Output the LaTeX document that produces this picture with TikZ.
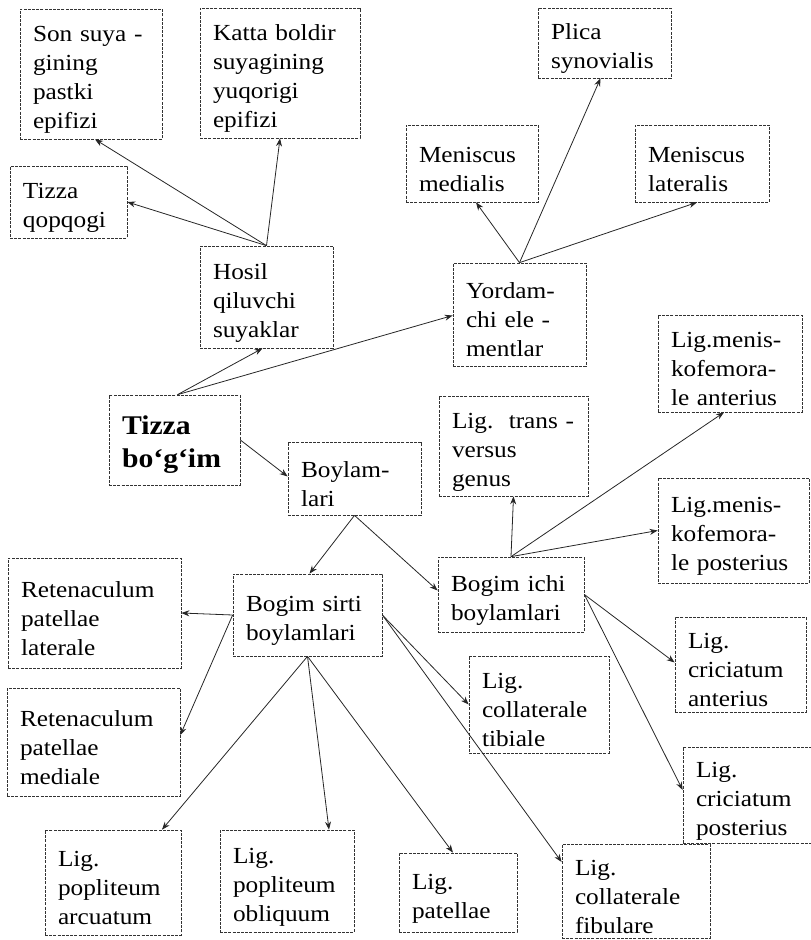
\documentclass[tikz,border=0pt]{standalone}
\usepackage{fontspec}
\setmainfont{Liberation Serif}[FakeStretch=1.1]
\usetikzlibrary{arrows.meta}
\begin{document}
\begin{tikzpicture}[x=1pt,y=-1pt,
  box/.style={draw=black!80, line width=0.7pt, dash pattern=on 3pt off 1.2pt,
    rectangle, align=left, inner xsep=13pt, inner ysep=0pt,
    font=\fontsize{23}{29}\selectfont},
  arr/.style={draw=black!85, line width=0.8pt, -{Stealth[length=8pt,width=6pt]}}]
\useasboundingbox (0,0) rectangle (811,940);
\newcommand{\bx}[6]{\node[box, minimum width=#3pt, minimum height=#4pt, text width=#5pt] (#1) at (#2) {\rule{0pt}{27pt}#6};}
% nodes: name, center, w, h, textwidth, text
\bx{son}{91,74}{142}{130}{116}{Son suya -\\gining\\pastki\\epifizi}
\bx{katta}{280,73}{160}{130}{134}{Katta boldir\\suyagining\\yuqorigi\\epifizi}
\bx{qop}{68.5,202}{117}{72}{91}{Tizza\\qopqogi}
\bx{hosil}{266.5,297}{133}{102}{107}{Hosil\\qiluvchi\\suyaklar}
\bx{plica}{604.5,43}{133}{70}{107}{Plica\\synovialis}
\bx{medialis}{472,163.5}{132}{77}{106}{Meniscus\\medialis}
\bx{lateralis}{702,163.5}{134}{77}{108}{Meniscus\\lateralis}
\bx{yordam}{519.5,314.5}{133}{103}{107}{Yordam-\\chi ele -\\mentlar}
\node[box, minimum width=131pt, minimum height=90pt, text width=105pt,
  font=\fontsize{27}{33}\selectfont\bfseries] (tizza) at (174.5,440) {\rule{0pt}{28pt}Tizza\\bo‘g‘im};
\bx{boylam}{354.5,478.5}{133}{73}{107}{Boylam-\\lari}
\bx{menisant}{730,363.5}{144}{97}{118}{Lig.menis-\\kofemora-\\le anterius}
\bx{trans}{513.5,446}{149}{100}{123}{Lig.\ \ trans -\\versus\\genus}
\bx{menispost}{733.5,530.5}{151}{105}{125}{Lig.menis-\\kofemora-\\le posterius}
\bx{retlat}{94.5,613}{173}{110}{147}{Retenaculum\\patellae\\laterale}
\bx{sirti}{307.5,615}{149}{82}{123}{Bogim sirti\\boylamlari}
\bx{ichi}{511,594.5}{146}{75}{120}{Bogim ichi\\boylamlari}
\bx{retmed}{93.5,742}{173}{108}{147}{Retenaculum\\patellae\\mediale}
\bx{tibiale}{539,704.5}{140}{97}{114}{Lig.\\collaterale\\tibiale}
\bx{crant}{740.5,664.5}{131}{95}{105}{Lig.\\criciatum\\anterius}
\bx{crpost}{747,795}{128}{96}{102}{Lig.\\criciatum\\posterius}
\bx{arcuatum}{113,882.5}{136}{105}{110}{Lig.\\popliteum\\arcuatum}
\bx{obliquum}{287,881}{134}{102}{108}{Lig.\\popliteum\\obliquum}
\bx{patellae}{458,892.5}{118}{79}{92}{Lig.\\patellae}
\bx{fibulare}{636,891}{148}{94}{122}{Lig.\\collaterale\\fibulare}
% connectors
\draw[arr] (hosil.north) -- ([xshift=4pt]son.south);
\draw[arr] (hosil.north) -- (katta.south);
\draw[arr] (hosil.north) -- (qop.east);
\draw[arr] (yordam.north) -- ([xshift=4pt]medialis.south);
\draw[arr] (yordam.north) -- ([xshift=-4pt]plica.south);
\draw[arr] (yordam.north) -- ([xshift=-5pt]lateralis.south);
\draw[arr] ([xshift=3pt]tizza.north) -- ([xshift=-4pt]hosil.south);
\draw[arr] ([xshift=3pt]tizza.north) -- ([yshift=-1pt]yordam.west);
\draw[arr] (tizza.east) -- ([yshift=2pt]boylam.west);
\draw[arr] (boylam.south) -- ([xshift=2pt]sirti.north);
\draw[arr] (boylam.south) -- ([yshift=4pt]ichi.west);
\draw[arr] (sirti.west) -- (retlat.east);
\draw[arr] (sirti.west) -- ([yshift=7pt]retmed.east);
\draw[arr] (sirti.south) -- ([xshift=49pt]arcuatum.north);
\draw[arr] (sirti.south) -- ([xshift=42pt]obliquum.north);
\draw[arr] (sirti.south) -- ([xshift=-5pt]patellae.north);
\draw[arr] (sirti.east) -- (tibiale.west);
\draw[arr] (sirti.east) -- ([yshift=29pt]fibulare.west);
\draw[arr] (ichi.north) -- (trans.south);
\draw[arr] (ichi.north) -- ([xshift=-6pt]menisant.south);
\draw[arr] (ichi.north) -- (menispost.west);
\draw[arr] (ichi.east) -- ([yshift=2pt]crant.west);
\draw[arr] (ichi.east) -- ([yshift=5pt]crpost.west);
\end{tikzpicture}
\end{document}
